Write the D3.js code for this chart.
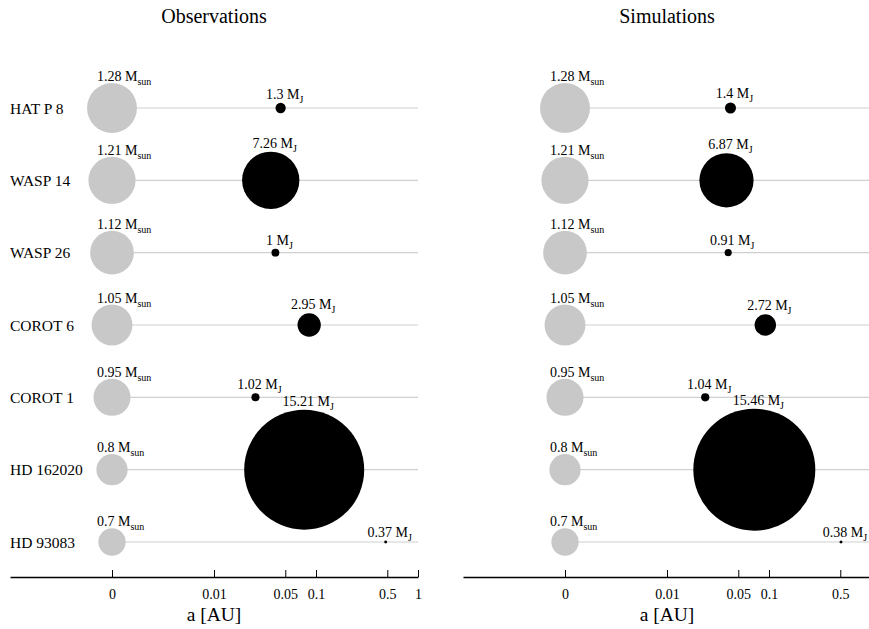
<!DOCTYPE html>
<html>
<head>
<meta charset="utf-8">
<script src="https://d3js.org/d3.v7.min.js"></script>
<style>
  html, body { margin: 0; padding: 0; background: #fff; }
  svg text { font-family: "Liberation Serif", "Times New Roman", serif; fill: #000; }
</style>
</head>
<body>
<script>
// ---------------- data ----------------
const systems = ["HAT P 8", "WASP 14", "WASP 26", "COROT 6", "COROT 1", "HD 162020", "HD 93083"];
const starMass = [1.28, 1.21, 1.12, 1.05, 0.95, 0.8, 0.7];            // M_sun
const obsPlanetMass = [1.3, 7.26, 1, 2.95, 1.02, 15.21, 0.37];         // M_J
const obsPlanetA    = [0.045, 0.036, 0.040, 0.0857, 0.0255, 0.0766, 0.482]; // AU
const simPlanetMass = [1.4, 6.87, 0.91, 2.72, 1.04, 15.46, 0.38];
const simPlanetA    = [0.0419, 0.0383, 0.0398, 0.092, 0.0237, 0.0718, 0.508];
const obsTicks = [0.001, 0.01, 0.05, 0.1, 0.5, 1];
const simTicks = [0.001, 0.01, 0.05, 0.1, 0.5];
const tickLabels = {0.001: "0", 0.01: "0.01", 0.05: "0.05", 0.1: "0.1", 0.5: "0.5", 1: "1"};
const panelTitles = ["Observations", "Simulations"];
const axisTitle = "a [AU]";

// ---------------- layout ----------------
const W = 869, H = 629;
const svg = d3.select("body").append("svg").attr("width", W).attr("height", H);

const ZERO = 0.001; // position used for a = 0 (the star)
const y = d3.scalePoint().domain(systems).range([108, 542]);
const rStar = d3.scaleLinear().domain([0, 1]).range([0, 19.5]);
const rPlanet = d3.scaleLinear().domain([0, 1]).range([0, 3.945]);

const panels = [
  { title: panelTitles[0], range: [10, 418], mass: obsPlanetMass, a: obsPlanetA, ticks: obsTicks, rowLabels: true },
  { title: panelTitles[1], range: [463, 871], mass: simPlanetMass, a: simPlanetA, ticks: simTicks, rowLabels: false }
];

const axisY = 577;

panels.forEach(p => {
  const x = d3.scaleLog().domain([1e-4, 1]).range(p.range);
  const g = svg.append("g");
  const cx = (p.range[0] + p.range[1]) / 2;

  g.append("text").attr("x", cx).attr("y", 23)
    .attr("text-anchor", "middle").style("font-size", "20px").text(p.title);

  const rows = systems.map((s, i) => ({
    name: s, star: starMass[i], pm: p.mass[i], pa: p.a[i]
  }));

  // grey track lines
  g.selectAll("line.track").data(rows).enter().append("line")
    .attr("class", "track")
    .attr("x1", x(ZERO)).attr("x2", p.range[1])
    .attr("y1", d => y(d.name)).attr("y2", d => y(d.name))
    .attr("stroke", "#d0d0d0").attr("stroke-width", 1.2);

  // stars
  g.selectAll("circle.star").data(rows).enter().append("circle")
    .attr("class", "star")
    .attr("cx", x(ZERO)).attr("cy", d => y(d.name))
    .attr("r", d => rStar(d.star))
    .attr("fill", "#c8c8c8");

  // planets
  g.selectAll("circle.planet").data(rows).enter().append("circle")
    .attr("class", "planet")
    .attr("cx", d => x(d.pa)).attr("cy", d => y(d.name))
    .attr("r", d => rPlanet(d.pm))
    .attr("fill", "#000");

  // star labels
  const sl = g.selectAll("text.slab").data(rows).enter().append("text")
    .attr("class", "slab")
    .attr("x", x(ZERO) - 15)
    .attr("y", d => y(d.name) - rStar(d.star) - 2)
    .style("font-size", "14px");
  sl.append("tspan").text(d => d.star + " M");
  sl.append("tspan").attr("dy", 4).style("font-size", "10px").text("sun");

  // planet labels
  const pl = g.selectAll("text.plab").data(rows).enter().append("text")
    .attr("class", "plab")
    .attr("x", d => x(d.pa) + 4)
    .attr("y", d => y(d.name) - rPlanet(d.pm) - 4)
    .attr("text-anchor", "middle")
    .style("font-size", "14px");
  pl.append("tspan").text(d => d.pm + " M");
  pl.append("tspan").attr("dy", 4).style("font-size", "10px").text("J");

  // row labels
  if (p.rowLabels) {
    g.selectAll("text.rlab").data(rows).enter().append("text")
      .attr("class", "rlab")
      .attr("x", 10).attr("y", d => y(d.name) + 5.5)
      .style("font-size", "15.5px")
      .text(d => d.name);
  }

  // axis
  const axis = d3.axisBottom(x)
    .tickValues(p.ticks)
    .tickFormat(d => tickLabels[d])
    .tickSizeInner(-7).tickSizeOuter(0).tickPadding(12);
  const ag = g.append("g").attr("transform", `translate(0,${axisY})`).call(axis);
  ag.select(".domain").attr("stroke", "#000").attr("stroke-width", 1.6);
  ag.selectAll(".tick line").attr("stroke", "#000").attr("stroke-width", 1);
  ag.selectAll(".tick text")
    .style("font-family", '"Liberation Serif", "Times New Roman", serif')
    .style("font-size", "14px").attr("fill", "#000");

  g.append("text").attr("x", cx).attr("y", 621)
    .attr("text-anchor", "middle").style("font-size", "19.5px").text(axisTitle);
});
</script>
</body>
</html>
